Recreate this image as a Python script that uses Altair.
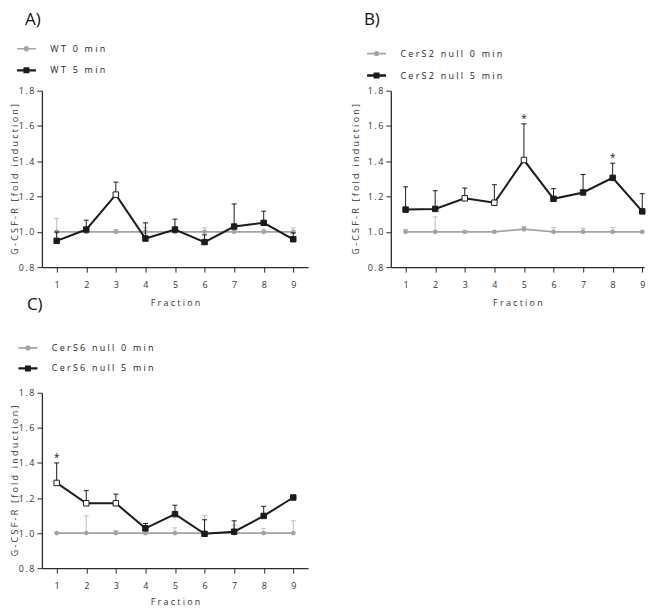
import altair as alt
import pandas as pd

fractions = [1, 2, 3, 4, 5, 6, 7, 8, 9]

# ---- Panel A (WT) ----
a_names = ["WT 0 min", "WT 5 min"]
a_mean_0 = [1.00, 1.00, 1.00, 1.00, 1.00, 1.00, 1.00, 1.00, 1.00]
a_sem_0 = [0.075, 0.010, 0.013, 0.023, 0.010, 0.023, 0.010, 0.015, 0.023]
a_mean_5 = [0.949, 1.013, 1.211, 0.962, 1.013, 0.942, 1.030, 1.051, 0.958]
a_sem_5 = [0.050, 0.053, 0.071, 0.089, 0.059, 0.041, 0.128, 0.066, 0.036]
a_open_5 = [False, False, True, False, False, False, False, False, False]
a_star_5 = [False, False, False, False, False, False, False, False, False]

# ---- Panel B (CerS2 null) ----
b_names = ["CerS2 null 0 min", "CerS2 null 5 min"]
b_mean_0 = [1.00, 1.00, 1.00, 1.00, 1.015, 1.00, 1.00, 1.00, 1.00]
b_sem_0 = [0.013, 0.085, 0.0, 0.0, 0.015, 0.025, 0.020, 0.025, 0.0]
b_mean_5 = [1.126, 1.130, 1.190, 1.165, 1.407, 1.187, 1.223, 1.306, 1.116]
b_sem_5 = [0.129, 0.103, 0.058, 0.102, 0.205, 0.058, 0.102, 0.083, 0.100]
b_open_5 = [False, False, True, True, True, False, False, False, False]
b_star_5 = [False, False, False, False, True, False, False, True, False]

# ---- Panel C (CerS6 null) ----
c_names = ["CerS6 null 0 min", "CerS6 null 5 min"]
c_mean_0 = [1.00, 1.00, 1.00, 1.00, 1.00, 1.00, 1.00, 1.00, 1.00]
c_sem_0 = [0.0, 0.098, 0.015, 0.0, 0.030, 0.100, 0.045, 0.027, 0.070]
c_mean_5 = [1.286, 1.170, 1.170, 1.027, 1.108, 0.996, 1.008, 1.098, 1.203]
c_sem_5 = [0.114, 0.072, 0.052, 0.028, 0.051, 0.080, 0.062, 0.055, 0.0]
c_open_5 = [True, True, True, False, False, False, False, False, False]
c_star_5 = [True, False, False, False, False, False, False, False, False]

y_ticks = [0.8, 1.0, 1.2, 1.4, 1.6, 1.8]

FONT = "Open Sans"
GRAY = "#a3a3a3"
GRAY_ERR = "#bdbdbd"
BLACK = "#1b1b1b"
AXIS = "#2b2b2b"
GAP = "\u2005"   # letter-spacing look of the original
THIN = "\u2009"


def spaced(s):
    return GAP.join(s)


PATH_CIRCLE = ("M-0.95,-0.08L-0.26,-0.08L-0.26,0.08L-0.95,0.08Z "
               "M0.26,-0.08L0.95,-0.08L0.95,0.08L0.26,0.08Z "
               "M0.27,0A0.27,0.27 0 1,1 -0.27,0A0.27,0.27 0 1,1 0.27,0Z")
PATH_SQUARE = ("M-0.95,-0.12L-0.3,-0.12L-0.3,0.12L-0.95,0.12Z "
               "M0.3,-0.12L0.95,-0.12L0.95,0.12L0.3,0.12Z "
               "M-0.3,-0.3L0.3,-0.3L0.3,0.3L-0.3,0.3Z")
CAP = "M-1,0L1,0"


def panel(letter, names, m0, s0, m5, s5, open5, star5, xmax, width, height,
          leg_x, leg_y, row_pad, title_offset, title_dx, ytitle_x, xtitle_pad):
    df = pd.DataFrame({
        "fraction": fractions + fractions,
        "series": [names[0]] * 9 + [names[1]] * 9,
        "mean": m0 + m5,
        "sem": s0 + s5,
        "open": [False] * 9 + open5,
        "star": [False] * 9 + star5,
    })
    base = alt.Chart(df).transform_calculate(top="datum.mean + datum.sem")

    xscale = alt.Scale(domain=[0.5, xmax], nice=False, zero=False)
    yscale = alt.Scale(domain=[0.8, 1.8], nice=False, zero=False)
    xaxis = alt.Axis(values=fractions, format="d", tickSize=5, labelPadding=8,
                     titlePadding=xtitle_pad, labelFlush=False)
    yaxis = alt.Axis(values=y_ticks, format=".1f", tickSize=5, labelPadding=3,
                     labelExpr="join(split(format(datum.value, '.1f'), ''), '" + THIN + "')",
                     titleX=ytitle_x)
    xtitle = spaced("Fraction")
    ytitle = spaced("G-CSF-R [fold induction]")
    X = alt.X("fraction:Q", scale=xscale, axis=xaxis, title=xtitle)
    Ym = alt.Y("mean:Q", scale=yscale, axis=yaxis, title=ytitle)
    Yt = alt.Y("top:Q", scale=yscale, axis=yaxis, title=ytitle)

    s0f = "datum.series == '%s'" % names[0]
    s5f = "datum.series == '%s'" % names[1]

    err0 = base.transform_filter(s0f + " && datum.sem > 0").mark_rule(
        color=GRAY_ERR, strokeWidth=1).encode(x=X, y=Ym, y2="top:Q")
    cap0 = base.transform_filter(s0f + " && datum.sem > 0").mark_point(
        shape=CAP, size=25, filled=False, color=GRAY_ERR, strokeWidth=1, opacity=1
    ).encode(x=X, y=Yt)
    line0 = base.transform_filter(s0f).mark_line(color=GRAY, strokeWidth=1.7).encode(x=X, y=Ym)
    pts0 = base.transform_filter(s0f).mark_circle(color=GRAY, size=24, opacity=1).encode(x=X, y=Ym)

    err5 = base.transform_filter(s5f + " && datum.sem > 0").mark_rule(
        color=BLACK, strokeWidth=1).encode(x=X, y=Ym, y2="top:Q")
    cap5 = base.transform_filter(s5f + " && datum.sem > 0").mark_point(
        shape=CAP, size=25, filled=False, color=BLACK, strokeWidth=1, opacity=1
    ).encode(x=X, y=Yt)
    line5 = base.transform_filter(s5f).mark_line(color=BLACK, strokeWidth=2).encode(x=X, y=Ym)
    pts5 = base.transform_filter(s5f).mark_square(
        size=30, stroke=BLACK, strokeWidth=1, opacity=1
    ).encode(x=X, y=Ym,
             fill=alt.condition("datum.open", alt.value("white"), alt.value(BLACK)))
    stars = base.transform_filter(s5f + " && datum.star").mark_text(
        text="*", fontSize=10, font=FONT, color=BLACK, baseline="alphabetic", dy=-2
    ).encode(x=X, y=Yt)

    leg = alt.Legend(orient="none", legendX=leg_x, legendY=leg_y, title=None,
                     symbolSize=400, symbolStrokeWidth=0, labelFont=FONT,
                     labelFontSize=9, labelColor="#222", labelOffset=14,
                     rowPadding=row_pad, padding=0,
                     labelExpr="join(split(datum.label, ''), '" + GAP + "')")
    legend_layer = base.transform_filter("datum.fraction < 0").mark_point(
        filled=True, size=400, opacity=1
    ).encode(
        x=X, y=Ym,
        color=alt.Color("series:N", scale=alt.Scale(domain=names, range=[GRAY, BLACK]), legend=leg),
        shape=alt.Shape("series:N", scale=alt.Scale(domain=names, range=[PATH_CIRCLE, PATH_SQUARE]), legend=leg),
    )

    return alt.layer(err0, cap0, line0, pts0, err5, cap5, line5, pts5, stars, legend_layer).properties(
        width=width, height=height,
        title=alt.TitleParams(text=letter, anchor="start", frame="group", dx=title_dx,
                              fontSize=17, fontWeight="normal", font=FONT,
                              color="#111", offset=title_offset),
    )


A = panel("A)", a_names, a_mean_0, a_sem_0, a_mean_5, a_sem_5, a_open_5, a_star_5,
          9.5, 267, 177, -25.5, -52, 6.6, 9.7, -17, -22, 9)
B = panel("B)", b_names, b_mean_0, b_sem_0, b_mean_5, b_sem_5, b_open_5, b_star_5,
          9.06, 254, 177, -24.3, -47.2, 7, 14.5, -27, -30, 9)
C = panel("C)", c_names, c_mean_0, c_sem_0, c_mean_5, c_sem_5, c_open_5, c_star_5,
          9.5, 267, 176, -24, -55, 5.6, 23.8, -15, -22, 7)

chart = alt.concat(
    A, B, C, columns=2, spacing={"row": 126, "column": 83}, bounds="flush"
).resolve_scale(
    color="independent", shape="independent", x="independent", y="independent"
).properties(
    padding={"left": 3, "top": 2, "right": 5, "bottom": 5}
).configure_view(
    stroke=None
).configure_axis(
    domainColor=AXIS, domainWidth=1.3, tickColor=AXIS, tickWidth=1,
    labelFont=FONT, labelFontSize=9, labelColor="#333",
    titleFont=FONT, titleFontSize=9, titleFontWeight="normal", titleColor="#333",
    grid=False,
)

chart.save("out.html", embed_options={"renderer": "svg", "actions": False})
